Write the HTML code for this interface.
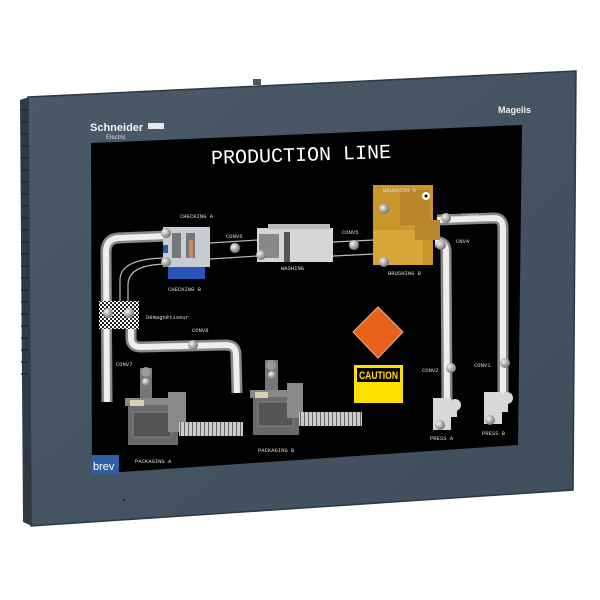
<!DOCTYPE html>
<html><head><meta charset="utf-8"><style>
html,body{margin:0;padding:0;background:#fff;width:600px;height:600px;overflow:hidden}
svg text{font-family:"Liberation Mono",monospace;fill:#ddd}
</style></head><body>
<svg width="600" height="600" viewBox="0 0 600 600" xmlns="http://www.w3.org/2000/svg">
<defs>
<linearGradient id="bz" x1="0" y1="0" x2="1" y2="1">
<stop offset="0" stop-color="#4a5a68"/><stop offset="1" stop-color="#3e4e5c"/></linearGradient>
<radialGradient id="ball" cx="0.35" cy="0.35" r="0.7"><stop offset="0" stop-color="#f4f4f4"/><stop offset="1" stop-color="#6e6e6e"/></radialGradient>
<pattern id="chk" width="4" height="4" patternUnits="userSpaceOnUse"><rect width="4" height="4" fill="#fff"/><rect width="2" height="2" fill="#222"/><rect x="2" y="2" width="2" height="2" fill="#222"/></pattern>
<pattern id="roll" width="4" height="10" patternUnits="userSpaceOnUse"><rect width="4" height="10" fill="#ccc"/><rect width="1" height="10" fill="#666"/></pattern>
</defs>
<polygon points="20,100 29,97 32,526 23,522" fill="#2e3a44"/>
<g stroke="#1c242b" stroke-width="1.2">
<line x1="21" y1="110" x2="28" y2="110"/><line x1="21" y1="122" x2="28" y2="122"/><line x1="21" y1="134" x2="28" y2="134"/><line x1="21" y1="146" x2="28" y2="146"/><line x1="21" y1="158" x2="28" y2="158"/><line x1="21" y1="170" x2="28" y2="170"/><line x1="21" y1="182" x2="28" y2="182"/><line x1="21" y1="194" x2="28" y2="194"/><line x1="21" y1="206" x2="28" y2="206"/><line x1="21" y1="218" x2="28" y2="218"/><line x1="21" y1="230" x2="28" y2="230"/><line x1="21" y1="242" x2="28" y2="242"/><line x1="21" y1="254" x2="28" y2="254"/><line x1="21" y1="266" x2="28" y2="266"/><line x1="21" y1="278" x2="28" y2="278"/><line x1="21" y1="290" x2="28" y2="290"/><line x1="21" y1="302" x2="28" y2="302"/><line x1="21" y1="314" x2="28" y2="314"/><line x1="21" y1="326" x2="28" y2="326"/><line x1="21" y1="338" x2="28" y2="338"/><line x1="21" y1="350" x2="28" y2="350"/><line x1="21" y1="362" x2="28" y2="362"/><line x1="21" y1="374" x2="28" y2="374"/>
</g>
<rect x="253" y="79" width="8" height="6" fill="#556" />
<polygon points="28,97 576,71 573,490 31,526" fill="url(#bz)" stroke="#2c3842" stroke-width="1.5"/>
<polygon points="91,143 522,125 518,445 92,474" fill="#020202"/>
<text x="90" y="131" style="font-family:'Liberation Sans',sans-serif;font-weight:bold;font-size:11px;fill:#f2f2f2">Schneider</text>
<rect x="148" y="123" width="16" height="6" fill="#e8e8e8"/>
<text x="106" y="139" style="font-family:'Liberation Sans',sans-serif;font-size:6px;fill:#ddd">Electric</text>
<text x="498" y="113" style="font-family:'Liberation Sans',sans-serif;font-weight:bold;font-size:9px;fill:#eee">Magelis</text>
<circle cx="124" cy="500" r="1" fill="#222"/>
<text x="211" y="161" style="font-size:20px;fill:#fff" transform="rotate(-2 300 155)">PRODUCTION LINE</text>
<g fill="none" stroke-linecap="butt" stroke-linejoin="round">
<g stroke="#888" stroke-width="11">
<path d="M168,236 L118,238 Q106,239 106,252 L107,402"/>
<path d="M131,302 L131,338 Q131,347 141,347 L226,345 Q236,345 236,355 L237,393"/>
<path d="M437,220 L494,218 Q503,218 503,228 L503,398"/>
<path d="M435,242 L438,242 Q446,242 446,252 L447,400"/>
</g>
<g stroke="#eee" stroke-width="6">
<path d="M168,236 L118,238 Q106,239 106,252 L107,402"/>
<path d="M131,302 L131,338 Q131,347 141,347 L226,345 Q236,345 236,355 L237,393"/>
<path d="M437,220 L494,218 Q503,218 503,228 L503,398"/>
<path d="M435,242 L438,242 Q446,242 446,252 L447,400"/>
</g>
<g stroke="#bbb" stroke-width="1.2">
<path d="M210,243 L258,240"/><path d="M210,259 L258,256"/>
<path d="M333,242 L375,240"/><path d="M333,256 L375,254"/>
<path d="M168,258 Q120,258 120,280 L120,302"/><path d="M168,264 Q128,264 128,285 L128,302"/>
</g>
</g>
<rect x="99" y="301" width="40" height="28" fill="url(#chk)"/>
<rect x="163" y="227" width="47" height="40" fill="#c8ccd4"/>
<rect x="172" y="233" width="9" height="25" fill="#777"/><rect x="186" y="233" width="9" height="25" fill="#777"/>
<rect x="189" y="240" width="4" height="18" fill="#c86"/>
<rect x="168" y="267" width="37" height="12" fill="#2a55b8"/>
<rect x="163" y="245" width="5" height="8" fill="#2a55b8"/>
<rect x="257" y="228" width="76" height="34" fill="#d6d6d6"/>
<rect x="259" y="234" width="20" height="24" fill="#888"/><rect x="284" y="232" width="6" height="30" fill="#555"/>
<rect x="268" y="224" width="62" height="5" fill="#bbb"/>
<rect x="373" y="185" width="60" height="80" fill="#c8962a"/>
<rect x="373" y="230" width="50" height="35" fill="#d9a53a"/>
<rect x="400" y="190" width="30" height="35" fill="#b8852a"/>
<circle cx="426" cy="196" r="4" fill="#fff"/><circle cx="426" cy="196" r="1.5" fill="#000"/>
<rect x="415" y="220" width="25" height="20" fill="#b8862b"/>
<polygon points="378,307 403,332 378,358 353,332" fill="#e8621e" stroke="#f4b090" stroke-width="1"/>
<rect x="354" y="365" width="49" height="38" fill="#ffe000"/>
<rect x="357" y="368" width="43" height="14" fill="#000"/>
<text x="359" y="379" textLength="39" lengthAdjust="spacingAndGlyphs" style="font-family:'Liberation Sans',sans-serif;font-weight:bold;font-size:11px;fill:#ffe000">CAUTION</text>
<rect x="140" y="368" width="12" height="32" fill="#777"/><circle cx="146" cy="372" r="5" fill="#999"/>
<rect x="125" y="398" width="58" height="8" fill="#888"/>
<rect x="128" y="405" width="50" height="40" fill="#6a6a6a"/><rect x="133" y="412" width="38" height="25" fill="#555" stroke="#999" stroke-width="0.6"/>
<rect x="168" y="392" width="18" height="40" fill="#8a8a8a"/>
<rect x="130" y="400" width="14" height="6" fill="#d8d0b0"/>
<rect x="179" y="422" width="64" height="14" fill="url(#roll)"/>
<rect x="265" y="360" width="13" height="32" fill="#777"/><circle cx="271" cy="365" r="5" fill="#999"/>
<rect x="250" y="390" width="50" height="8" fill="#888"/>
<rect x="253" y="397" width="46" height="38" fill="#6a6a6a"/><rect x="258" y="402" width="35" height="24" fill="#555" stroke="#999" stroke-width="0.6"/>
<rect x="287" y="383" width="16" height="35" fill="#8a8a8a"/>
<rect x="255" y="392" width="13" height="6" fill="#d8d0b0"/>
<rect x="299" y="412" width="63" height="14" fill="url(#roll)"/>
<g fill="#d8d8d8">
<rect x="433" y="398" width="18" height="32"/><rect x="447" y="405" width="10" height="12"/><circle cx="455" cy="405" r="6"/>
<rect x="484" y="392" width="18" height="32"/><rect x="498" y="400" width="10" height="12"/><circle cx="507" cy="398" r="6"/>
</g>
<g fill="url(#ball)">
<circle cx="166" cy="233" r="5"/><circle cx="166" cy="262" r="5"/><circle cx="235" cy="248" r="5"/><circle cx="261" cy="255" r="5"/>
<circle cx="354" cy="245" r="5"/><circle cx="384" cy="209" r="5"/><circle cx="384" cy="262" r="5"/><circle cx="446" cy="218" r="5"/>
<circle cx="441" cy="245" r="5"/><circle cx="108" cy="313" r="5"/><circle cx="129" cy="313" r="5"/><circle cx="193" cy="345" r="5"/>
<circle cx="451" cy="368" r="5"/><circle cx="505" cy="363" r="5"/><circle cx="440" cy="425" r="5"/><circle cx="490" cy="420" r="5"/>
<circle cx="146" cy="382" r="4"/><circle cx="272" cy="375" r="4"/>
</g>
<g style="font-size:5.5px">
<text x="180" y="218">CHECKING A</text><text x="168" y="291">CHECKING B</text>
<text x="226" y="238">CONV6</text><text x="281" y="270">WASHING</text><text x="342" y="234">CONV5</text>
<text x="383" y="192">BRUSHING A</text><text x="388" y="275">BRUSHING B</text>
<text x="462" y="217">CONV3</text><text x="456" y="243">CNV4</text>
<text x="146" y="319">Démagnétiseur</text><text x="192" y="332">CONV8</text><text x="116" y="366">CONV7</text>
<text x="422" y="372">CONV2</text><text x="474" y="367">CONV1</text>
<text x="135" y="463">PACKAGING A</text><text x="258" y="452">PACKAGING B</text>
<text x="430" y="440">PRESS A</text><text x="482" y="435">PRESS B</text>
</g>
<rect x="92" y="455" width="27" height="19" fill="#2f5ea8"/>
<text x="93" y="470" style="font-family:'Liberation Sans',sans-serif;font-size:11px;fill:#fff">brev</text>
</svg>
</body></html>
